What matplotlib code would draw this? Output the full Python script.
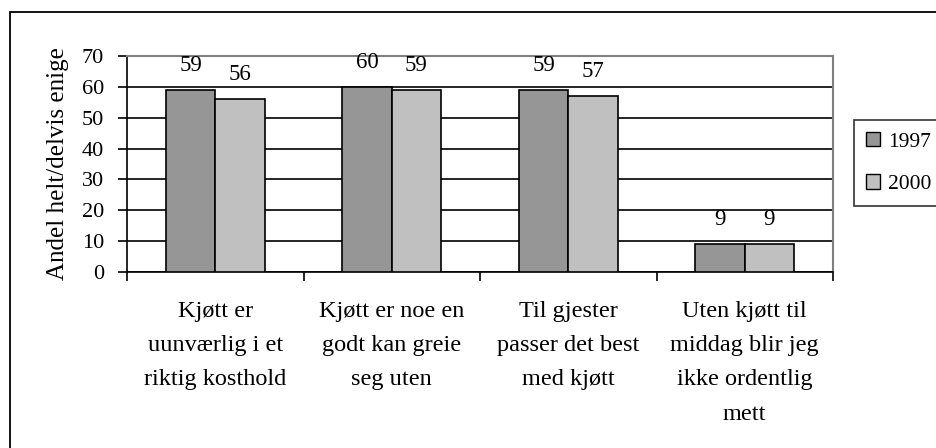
import matplotlib
matplotlib.use('Agg')
import matplotlib.pyplot as plt
from matplotlib.patches import Rectangle, Patch
import numpy as np

# data
categories = ['Kjøtt er\nuunværlig i et\nriktig kosthold',
              'Kjøtt er noe en\ngodt kan greie\nseg uten',
              'Til gjester\npasser det best\nmed kjøtt',
              'Uten kjøtt til\nmiddag blir jeg\nikke ordentlig\nmett']
series_names = ['1997', '2000']
vals_1997 = [59, 60, 59, 9]
vals_2000 = [56, 59, 57, 9]
y_ticks = [0, 10, 20, 30, 40, 50, 60, 70]
y_label = 'Andel helt/delvis enige'

colors = ['#969696', '#c0c0c0']

plt.rcParams['font.family'] = ['Liberation Serif', 'DejaVu Serif']

fig = plt.figure(figsize=(9.36, 4.48), dpi=100)
ax = fig.add_axes([127/936, 1-272/448, (833-127)/936, (272-56)/448])

x = np.arange(len(categories))
w = 0.28
for i, (vals, c) in enumerate(zip([vals_1997, vals_2000], colors)):
    pos = x + (i - 0.5) * w
    ax.bar(pos, vals, w, color=c, edgecolor='black', linewidth=1.2, zorder=3)
    for px, v in zip(pos, vals):
        ax.annotate(str(v), (px, v), xytext=(0, 17.5), textcoords='offset points',
                    ha='center', va='center', fontsize=16.5)

ax.set_xlim(-0.5, len(categories) - 0.5)
ax.set_ylim(0, 70)
ax.set_yticks(y_ticks)
ax.set_yticklabels([str(t) for t in y_ticks], fontsize=16)
ax.yaxis.grid(True, color='black', linewidth=1.2, zorder=0)
ax.set_axisbelow(True)

ax.set_xticks(np.arange(-0.5, len(categories), 1.0))
ax.set_xticklabels([])
ax.set_xticks(x, minor=True)
ax.set_xticklabels(categories, minor=True, fontsize=17.5, linespacing=1.82)
ax.tick_params(axis='x', which='minor', length=0, pad=21)
ax.tick_params(axis='x', which='major', length=6.5, width=1.2, direction='out')
ax.tick_params(axis='y', length=6.5, width=1.2, direction='out', pad=10)

ax.set_ylabel(y_label, fontsize=18, labelpad=9)

for s in ['left', 'bottom']:
    ax.spines[s].set_color('black')
    ax.spines[s].set_linewidth(1.2)
for s in ['top', 'right']:
    ax.spines[s].set_color('#808080')
    ax.spines[s].set_linewidth(1.5)

# outer chart frame (cut off on the right and bottom in the reference)
fig.patches.append(Rectangle((10/936, -0.2), 1.2, 1 - 12/448 + 0.2,
                             transform=fig.transFigure, fill=False,
                             edgecolor='black', linewidth=1.3))

handles = [Patch(facecolor=c, edgecolor='black', linewidth=1) for c in colors]
leg = fig.legend(handles, series_names, loc='upper left',
                 bbox_to_anchor=(854/936, 1 - 120/448), fontsize=15.5,
                 frameon=True, fancybox=False, edgecolor='black',
                 handlelength=0.65, handleheight=0.65, handletextpad=0.4,
                 labelspacing=1.05, borderpad=0.55, borderaxespad=0)
leg.get_frame().set_linewidth(1.2)

plt.savefig('out.png', dpi=100)
